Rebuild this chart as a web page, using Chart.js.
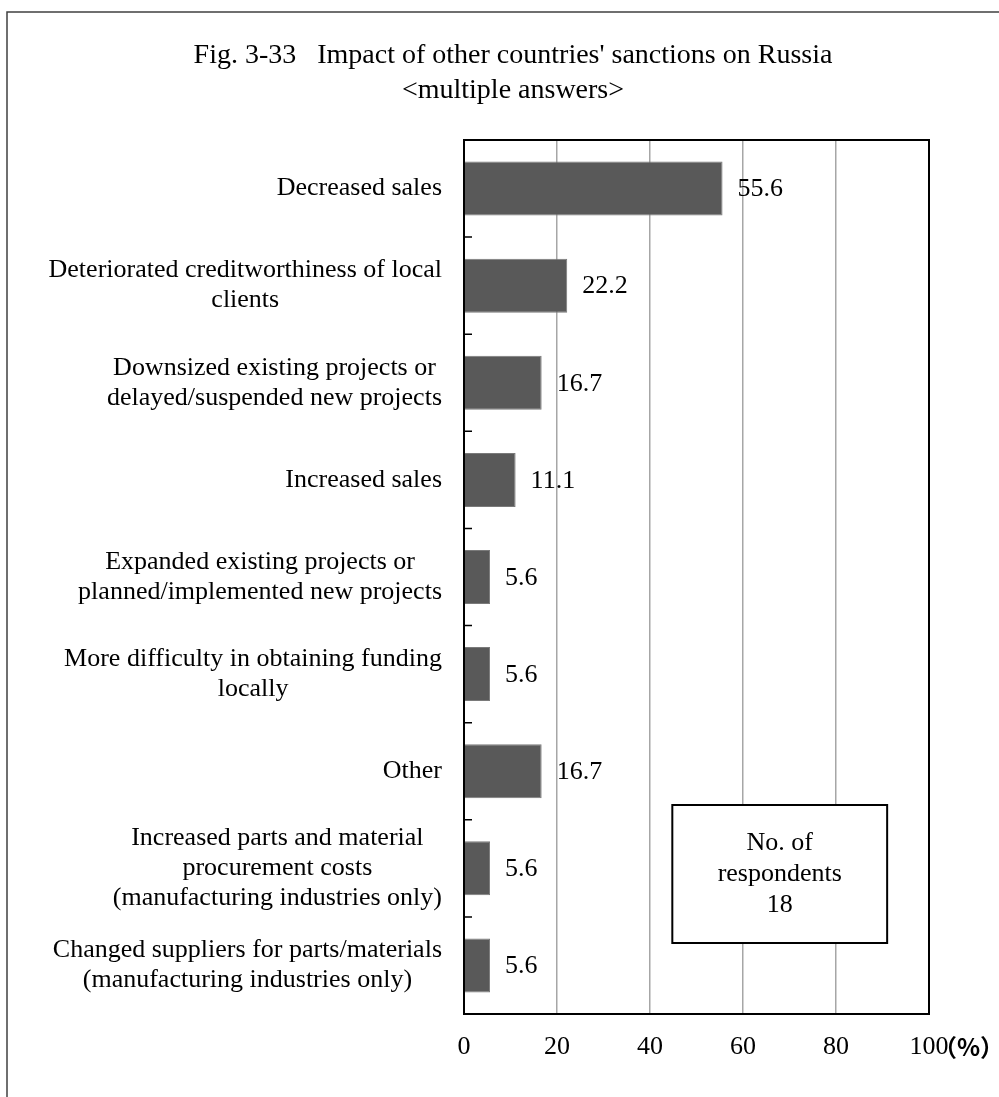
<!DOCTYPE html>
<html>
<head>
<meta charset="utf-8">
<script src="https://cdn.jsdelivr.net/npm/chart.js@4"></script>
<style>
	html, body { margin: 0; padding: 0; background: #fff; }
	#wrap { width: 999px; height: 1097px; }
</style>
</head>
<body>
<div id="wrap"><canvas id="sanctionChart" width="999" height="1097"></canvas></div>
<script>
// 항목 (표시 순서: 위에서 아래로)
var categoryLabels = [
	["Decreased sales"],
	["Deteriorated creditworthiness of local", "clients"],
	["Downsized existing projects or", "delayed/suspended new projects"],
	["Increased sales"],
	["Expanded existing projects or", "planned/implemented new projects"],
	["More difficulty in obtaining funding", "locally"],
	["Other"],
	["Increased parts and material", "procurement costs", "(manufacturing industries only)"],
	["Changed suppliers for parts/materials", "(manufacturing industries only)"]
];
var shareValues = [55.6, 22.2, 16.7, 11.1, 5.6, 5.6, 16.7, 5.6, 5.6];
var xTickValues = [0, 20, 40, 60, 80, 100];
var titleLines = ["Fig. 3-33\u00a0\u00a0 Impact of other countries' sanctions on Russia", "<multiple answers>"];
var respondentLines = ["No. of", "respondents", "18"];
var unitLabel = "（%）";

var sanctionChart = {
	serif: "'Liberation Serif', 'Times New Roman', serif",
	init: function(){
		var ctx = document.getElementById("sanctionChart").getContext("2d");
		var flatLabels = categoryLabels.map(function(l){ return l.join(" "); });

		new Chart(ctx, {
			type: "bar",
			data: {
				labels: flatLabels,
				datasets: [{
					data: shareValues,
					backgroundColor: "#595959",
					borderColor: "#7a7a7a",
					borderWidth: 1,
					borderSkipped: "left",
					categoryPercentage: 1,
					barPercentage: 0.556
				}]
			},
			options: {
				indexAxis: "y",
				responsive: false,
				animation: false,
				layout: { padding: { left: 464, right: 70, top: 140, bottom: 36 } },
				plugins: {
					legend: { display: false },
					tooltip: { enabled: false }
				},
				scales: {
					y: {
						type: "category",
						offset: true,
						ticks: { display: false },
						grid: { display: false },
						border: { display: false },
						afterFit: function(scale){ scale.width = 0; }
					},
					x: {
						min: 0,
						max: 100,
						afterBuildTicks: function(scale){
							scale.ticks = xTickValues.map(function(v){ return { value: v }; });
						},
						ticks: {
							color: "#000",
							padding: 18,
							maxRotation: 0,
							font: { family: sanctionChart.serif, size: 26 }
						},
						grid: { color: "#a6a6a6", lineWidth: 1.5, drawTicks: false },
						border: { display: false },
						afterFit: function(scale){ scale.height = 47; }
					}
				}
			},
			plugins: [sanctionChart.decorPlugin]
		});
	},
	decorPlugin: {
		id: "decor",
		beforeDraw: function(chart){
			var c = chart.ctx;
			c.save();
			c.fillStyle = "#fff";
			c.fillRect(0, 0, chart.width, chart.height);
			// 바깥 테두리 (위, 왼쪽)
			c.strokeStyle = "#404040";
			c.lineWidth = 1.5;
			c.beginPath();
			c.moveTo(7, chart.height);
			c.lineTo(7, 12);
			c.lineTo(chart.width, 12);
			c.stroke();
			c.restore();
		},
		afterDraw: function(chart){
			var c = chart.ctx;
			var area = chart.chartArea;
			var xs = chart.scales.x;
			var ys = chart.scales.y;
			var serif = sanctionChart.serif;
			var i, j;

			c.save();

			// 플롯 테두리
			c.strokeStyle = "#000";
			c.lineWidth = 2;
			c.strokeRect(area.left, area.top, area.right - area.left, area.bottom - area.top);

			// 항목 경계 눈금 (안쪽)
			c.lineWidth = 1.5;
			c.beginPath();
			for(i = 0; i < categoryLabels.length - 1; i++){
				var by = (ys.getPixelForValue(i) + ys.getPixelForValue(i + 1)) / 2;
				c.moveTo(area.left, by);
				c.lineTo(area.left + 8, by);
			}
			c.stroke();

			// 항목 라벨
			c.fillStyle = "#000";
			c.font = "26px " + serif;
			c.textAlign = "center";
			c.textBaseline = "middle";
			var lineH = 30;
			for(i = 0; i < categoryLabels.length; i++){
				var lines = categoryLabels[i];
				var maxW = 0;
				for(j = 0; j < lines.length; j++) maxW = Math.max(maxW, c.measureText(lines[j]).width);
				var cx = area.left - 22 - maxW / 2;
				var cy = ys.getPixelForValue(i) - (lines.length - 1) * lineH / 2;
				for(j = 0; j < lines.length; j++) c.fillText(lines[j], cx, cy + j * lineH);
			}

			// 값 라벨
			c.textAlign = "left";
			var meta = chart.getDatasetMeta(0);
			meta.data.forEach(function(bar, idx){
				c.fillText(shareValues[idx].toFixed(1), bar.x + 15, bar.y + 1);
			});

			// 제목
			c.textAlign = "center";
			c.font = "28px " + serif;
			c.fillText(titleLines[0], 513, 56);
			c.fillText(titleLines[1], 513, 91);

			// 단위
			c.textAlign = "left";
			c.font = "bold 24px 'Noto Sans CJK JP'";
			c.fillText(unitLabel, xs.getPixelForValue(100) + 4, area.bottom + 33);

			// 응답자 수 박스
			var bx1 = xs.getPixelForValue(44.8);
			var bx2 = xs.getPixelForValue(91);
			var byTop = area.top + 665;
			var bh = 138;
			c.fillStyle = "#fff";
			c.fillRect(bx1, byTop, bx2 - bx1, bh);
			c.strokeStyle = "#000";
			c.lineWidth = 2;
			c.strokeRect(bx1, byTop, bx2 - bx1, bh);
			c.fillStyle = "#000";
			c.font = "26px " + serif;
			c.textAlign = "center";
			for(j = 0; j < respondentLines.length; j++){
				c.fillText(respondentLines[j], (bx1 + bx2) / 2, byTop + 38 + j * 31);
			}

			c.restore();
		}
	}
};

sanctionChart.init();
</script>
</body>
</html>
